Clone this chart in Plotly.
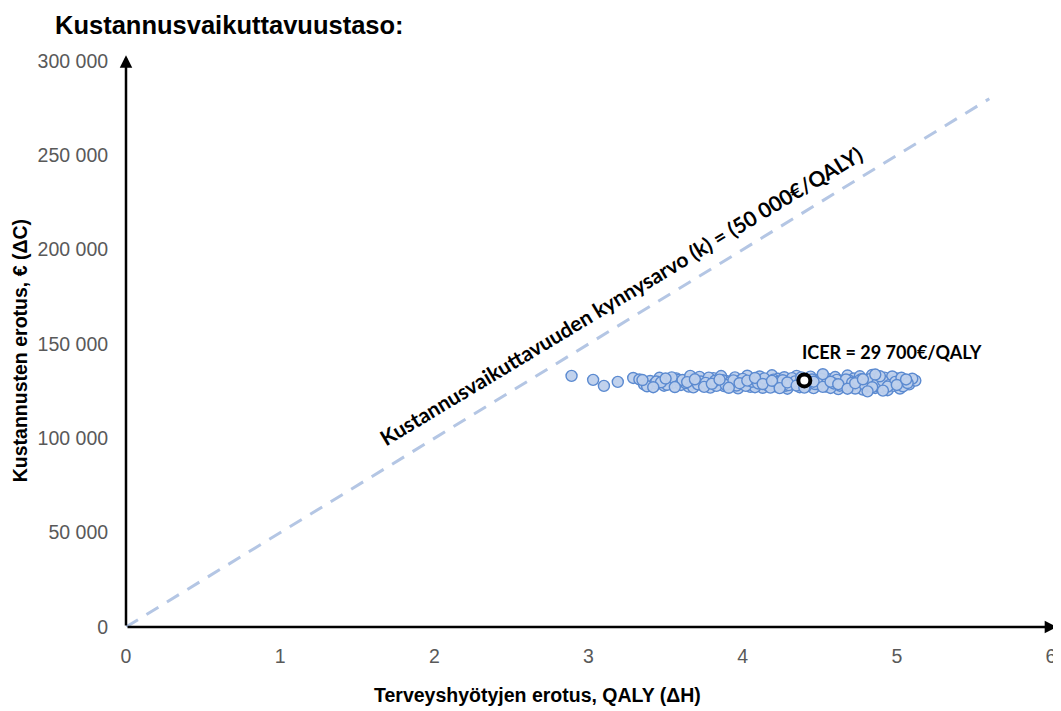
import plotly.graph_objects as go

# ---- data ----
title_text = "Kustannusvaikuttavuustaso:"
x_title = "Terveyshyötyjen erotus, QALY (ΔH)"
y_title = "Kustannusten erotus, € (ΔC)"

x_ticks = [0, 1, 2, 3, 4, 5, 6]
y_ticks = [0, 50000, 100000, 150000, 200000, 250000, 300000]
y_tick_labels = ["0", "50 000", "100 000", "150 000", "200 000", "250 000", "300 000"]

# willingness-to-pay threshold line (50 000 €/QALY)
threshold_x = [0, 5.6]
threshold_y = [0, 280000]
threshold_label = "Kustannusvaikuttavuuden kynnysarvo (k) = (50 000€/QALY)"

# bootstrap cloud (ΔH, ΔC)
sim_qaly = [
    2.89, 3.03, 3.10, 3.19, 3.29,
    3.33, 3.36, 3.40, 3.43, 3.46, 3.49, 3.52, 3.55, 3.57, 3.60, 3.62, 3.65, 3.67, 3.70, 3.72,
    3.74, 3.77, 3.79, 3.81, 3.84, 3.86, 3.88, 3.90, 3.93, 3.95, 3.97, 3.99, 4.01, 4.03, 4.05,
    4.07, 4.09, 4.11, 4.13, 4.15, 4.17, 4.19, 4.21, 4.23, 4.25, 4.27, 4.29, 4.31, 4.33, 4.35,
    4.37, 4.39, 4.42, 4.44, 4.46, 4.48, 4.50, 4.52, 4.54, 4.56, 4.58, 4.60, 4.62, 4.64, 4.66,
    4.68, 4.70, 4.72, 4.74, 4.76, 4.78, 4.80, 4.82, 4.84, 4.86, 4.88, 4.90, 4.92, 4.94, 4.96,
    4.98, 5.00, 5.02, 5.05, 5.08, 5.12,
    3.38, 3.44, 3.51, 3.58, 3.63, 3.68, 3.73, 3.78, 3.83, 3.87, 3.92, 3.96, 4.00, 4.04, 4.08,
    4.12, 4.16, 4.20, 4.24, 4.28, 4.32, 4.36, 4.41, 4.45, 4.49, 4.53, 4.57, 4.61, 4.65, 4.69,
    4.73, 4.77, 4.81, 4.85, 4.89, 4.93, 4.97, 5.01, 5.04, 5.10,
    3.47, 3.54, 3.61, 3.66, 3.71, 3.76, 3.82, 3.89, 3.94, 4.02, 4.06, 4.10, 4.14, 4.18, 4.22,
    4.26, 4.30, 4.34, 4.38, 4.43, 4.47, 4.51, 4.55, 4.59, 4.63, 4.67, 4.71, 4.75, 4.79, 4.83,
    4.87, 4.91, 4.95, 4.99, 5.03, 5.07,
    3.35, 3.42, 3.50, 3.56, 3.64, 3.69, 3.75, 3.80, 3.85, 3.91, 3.98, 4.03, 4.08, 4.13, 4.19,
    4.24, 4.29, 4.35, 4.40, 4.46, 4.52, 4.57, 4.62, 4.68, 4.73, 4.78, 4.84, 4.89, 4.94, 5.00,
    5.06, 4.81, 4.91, 4.86, 4.52,
]
sim_cost = [
    133100, 131000, 127800, 129900, 132000,
    131200, 128600, 130400, 129100, 132100, 127900, 130900, 129500, 131800, 128300, 130200, 127400, 131500, 129000, 132600,
    128100, 130700, 126900, 131900, 129600, 133000, 127700, 130300, 128800, 132300, 126500, 130900, 129300, 133200, 127300,
    131100, 128500, 132800, 126800, 130100, 129800, 133400, 127600, 131600, 128900, 132400, 126300, 130600, 129200, 133100,
    127100, 131400, 128400, 132700, 126600, 130800, 129400, 133500, 127500, 131300, 128200, 132500, 126100, 130500, 129700,
    133300, 127200, 131700, 128700, 132900, 125800, 130000, 129100, 133600, 126700, 131200, 128000, 132200, 125500, 130400,
    127800, 131800, 126400, 130900, 128600, 130600,
    127600, 130100, 128400, 131000, 129300, 127000, 130100, 132200, 127800, 130800, 129900, 128000, 131500, 129700, 127100,
    130600, 128100, 131100, 129500, 127900, 131900, 129000, 127400, 131200, 128600, 130300, 126700, 131000, 128300, 130700,
    126400, 131400, 127500, 130200, 127000, 129600, 132800, 129200, 127600, 131600,
    129700, 132300, 130900, 133100, 128600, 129400, 130500, 128300, 130700, 127800, 130000, 129100, 131800, 126900, 129900,
    130800, 128200, 130200, 132300, 129800, 128800, 131600, 129900, 129100, 127900, 131200, 129500, 130300, 128500, 131500,
    128800, 130500, 128200, 129900, 132100, 129300,
    130900, 127100, 131700, 127200, 129800, 131300, 127300, 128900, 131100, 126800, 129200, 130600, 132000, 128800, 130500,
    126600, 129600, 128000, 126900, 130000, 127300, 130000, 128700, 126300, 129200, 131300, 127100, 132900, 127400, 128300,
    131200, 124900, 125300, 133800, 134000,
]

# point estimate
icer_qaly = [4.40]
icer_cost = [130700]
icer_label = "ICER = 29 700€/QALY"

fig = go.Figure()

fig.add_trace(go.Scatter(
    x=threshold_x, y=threshold_y, mode="lines",
    line=dict(color="#b4c6e4", width=3, dash="14px,10px"),
    hoverinfo="skip", showlegend=False,
))

fig.add_trace(go.Scatter(
    x=sim_qaly, y=sim_cost, mode="markers",
    marker=dict(size=11, color="rgba(190,208,236,0.95)", line=dict(color="#5b8ad0", width=1.4)),
    showlegend=False,
))

fig.add_trace(go.Scatter(
    x=icer_qaly, y=icer_cost, mode="markers",
    marker=dict(size=12, color="white", line=dict(color="black", width=4)),
    showlegend=False,
))

annotations = [
    # axes with arrowheads
    dict(x=6.04, y=0, ax=0, ay=0, xref="x", yref="y", axref="x", ayref="y",
         showarrow=True, arrowhead=2, arrowsize=1, arrowwidth=2.5, arrowcolor="black", text=""),
    dict(x=0, y=303000, ax=0, ay=0, xref="x", yref="y", axref="x", ayref="y",
         showarrow=True, arrowhead=2, arrowsize=1, arrowwidth=2.5, arrowcolor="black", text=""),
    # title
    dict(text=title_text, x=-0.079, y=1.0925, xref="paper", yref="paper",
         xanchor="left", yanchor="top", showarrow=False,
         font=dict(family="Liberation Sans, Arial", size=25.5, color="black", weight="bold")),
    # axis titles
    dict(text=x_title, x=0.445, y=-0.12, xref="paper", yref="paper",
         xanchor="center", yanchor="middle", showarrow=False,
         font=dict(family="Liberation Sans, Arial", size=19.5, color="black", weight="bold")),
    dict(text=y_title, x=-0.1146, y=0.489, xref="paper", yref="paper", textangle=-90,
         xanchor="center", yanchor="middle", showarrow=False,
         font=dict(family="Liberation Sans, Arial", size=19.5, color="black", weight="bold")),
    # threshold label
    dict(text=threshold_label, x=3.21, y=175500, xref="x", yref="y", textangle=-31,
         xanchor="center", yanchor="middle", showarrow=False,
         font=dict(family="Lato, Open Sans", size=21, color="black", weight="bold")),
    # ICER label
    dict(text=icer_label, x=4.97, y=145800, xref="x", yref="y",
         xanchor="center", yanchor="middle", showarrow=False,
         font=dict(family="Lato, Open Sans", size=18, color="black", weight="bold")),
]

tick_font = dict(family="Liberation Sans, Arial", size=19.5, color="#595959")

# the page body adds an 8px offset, so the figure is sized to fill the rest of the window
fig.update_layout(
    width=1053, height=703,
    margin=dict(l=118, r=10, t=53, b=84, autoexpand=False),
    paper_bgcolor="white", plot_bgcolor="white",
    showlegend=False,
    annotations=annotations,
    xaxis=dict(range=[0, 6], tickvals=x_ticks, showgrid=False, zeroline=False, showline=False,
               automargin=False,
               ticks="outside", ticklen=12, tickcolor="rgba(0,0,0,0)", tickfont=tick_font),
    yaxis=dict(range=[0, 300000], tickvals=y_ticks, ticktext=y_tick_labels, showgrid=False,
               zeroline=False, showline=False, automargin=False,
               ticks="outside", ticklen=13, tickcolor="rgba(0,0,0,0)", tickfont=tick_font),
)

fig.write_html("out.html")
